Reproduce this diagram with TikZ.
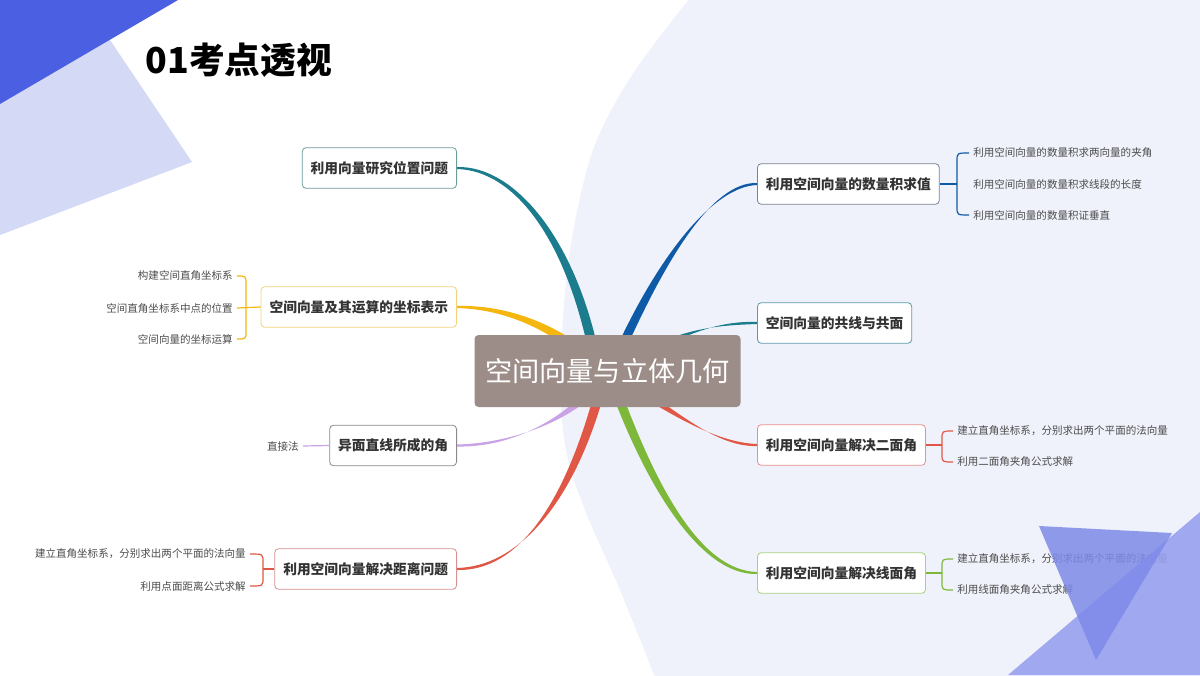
\documentclass[tikz,border=0pt]{standalone}
\usepackage{fontspec}
\setmainfont{Noto Sans CJK SC}
\usetikzlibrary{calc}

\definecolor{c-teal}{HTML}{1B7C8E}
\definecolor{c-yellow}{HTML}{F5B70F}
\definecolor{c-lilac}{HTML}{C9A3E6}
\definecolor{c-red}{HTML}{E05745}
\definecolor{c-blue}{HTML}{0E5AA7}
\definecolor{c-green}{HTML}{7DB83A}
\definecolor{c-hub}{HTML}{9C8D88}
\definecolor{b-pos}{HTML}{6E9A9A}
\definecolor{b-coord}{HTML}{F2D27A}
\definecolor{b-skew}{HTML}{8A8A8A}
\definecolor{b-dist}{HTML}{D89090}
\definecolor{b-dot}{HTML}{7A8290}
\definecolor{b-plane}{HTML}{5A9AA8}
\definecolor{b-dihed}{HTML}{E89090}
\definecolor{b-lineplane}{HTML}{A8D080}
\definecolor{pale}{HTML}{F0F2FB}
\definecolor{lavender}{HTML}{D4D9F5}
\definecolor{royal}{HTML}{4B5FE3}
\definecolor{tri-light}{HTML}{98A2EF}
\definecolor{tri-dark}{HTML}{7D8AE8}

\tikzset{
  topic/.style={draw, rounded corners=3pt, fill=white, line width=0.6pt, inner xsep=6.4pt,
    minimum height=30.5pt, text=black!80, font=\fontsize{10.3}{12}\selectfont\bfseries},
  leaf/.style={inner xsep=3pt, inner ysep=1pt, text=black!70, font=\fontsize{7.9}{9}\selectfont},
  hubbox/.style={fill=c-hub, rounded corners=3pt, minimum width=199.5pt, minimum height=54pt,
    text=white, font=\fontsize{20.4}{24}\selectfont},
  spine/.style={line width=0.9pt},
}

% tapered branch: colour, start, ctrl 1, ctrl 2, end, half width at start
\newcommand{\twig}[6]{%
  \fill[#1] ($#2+(#6)$) .. controls ($#3+(#6)$) and ($#4+(0,-2.5)$) .. ($#5+(0,-1)$)
    -- ($#5+(0,1)$) .. controls ($#4+(0,2.5)$) and ($#3-(#6)$) .. ($#2-(#6)$) -- cycle;}

% curly fork: colour, spine coordinate, first leaf, last leaf, leaf anchor
\newcommand{\forkto}[5]{%
  \draw[#1, spine] (#3.#5) .. controls (#2|-#3.#5) .. ($(#2|-#3.#5)+(0,8)$)
    -- ($(#2|-#4.#5)+(0,-8)$) .. controls (#2|-#4.#5) .. (#4.#5);}

\pgfdeclarelayer{back}
\pgfdeclarelayer{links}
\pgfsetlayers{back,links,main}

\begin{document}
\begin{tikzpicture}[x=0.75pt,y=-0.75pt]
\useasboundingbox (0,0) rectangle (1200,675);

\begin{pgfonlayer}{back}
  \fill[white] (0,0) rectangle (1200,675);
  \fill[pale] plot[smooth] coordinates {(690,-2) (632,75) (593,150) (570,250) (560,370) (566,450) (585,510) (620,590) (655,677)}
    -- (1202,677) -- (1202,-2) -- cycle;
  \fill[lavender] (0,103) -- (110,40) -- (192,162) -- (0,235) -- cycle;
  \fill[royal] (0,0) -- (178,0) -- (0,104) -- cycle;
\end{pgfonlayer}

\node[anchor=west, font=\fontsize{26.8}{30}\selectfont\bfseries] (title) at (141,60) {01考点透视};

\node[hubbox] (hub) at (607.5,371) {空间向量与立体几何};

% left topics
\node[topic, draw=b-pos, anchor=east] (pos) at (457,168) {利用向量研究位置问题};
\node[topic, draw=b-coord, anchor=east] (coord) at (457,307) {空间向量及其运算的坐标表示};
\node[topic, draw=b-skew, anchor=east] (skew) at (457,445.5) {异面直线所成的角};
\node[topic, draw=b-dist, anchor=east] (dist) at (457,569) {利用空间向量解决距离问题};

% right topics
\node[topic, draw=b-dot, anchor=west] (dot) at (757,184) {利用空间向量的数量积求值};
\node[topic, draw=b-plane, anchor=west] (plane) at (757,323) {空间向量的共线与共面};
\node[topic, draw=b-dihed, anchor=west] (dihed) at (757,445) {利用空间向量解决二面角};
\node[topic, draw=b-lineplane, anchor=west] (lineplane) at (757,573) {利用空间向量解决线面角};

% leaves
\node[leaf, anchor=east] (cl1) at (237,276) {构建空间直角坐标系};
\node[leaf, anchor=east] (cl2) at (237,308) {空间直角坐标系中点的位置};
\node[leaf, anchor=east] (cl3) at (237,339) {空间向量的坐标运算};
\node[leaf, anchor=east] (sl1) at (303,446) {直接法};
\node[leaf, anchor=east] (tl1) at (250,554) {建立直角坐标系，分别求出两个平面的法向量};
\node[leaf, anchor=east] (tl2) at (250,586) {利用点面距离公式求解};

\node[leaf, anchor=west] (dl1) at (969,153) {利用空间向量的数量积求两向量的夹角};
\node[leaf, anchor=west] (dl2) at (969,184) {利用空间向量的数量积求线段的长度};
\node[leaf, anchor=west] (dl3) at (969,215) {利用空间向量的数量积证垂直};
\node[leaf, anchor=west] (hl1) at (953,431) {建立直角坐标系，分别求出两个平面的法向量};
\node[leaf, anchor=west] (hl2) at (953,462) {利用二面角夹角公式求解};
\node[leaf, anchor=west] (ll1) at (953,559) {建立直角坐标系，分别求出两个平面的法向量};
\node[leaf, anchor=west] (ll2) at (953,590) {利用线面角夹角公式求解};

\begin{pgfonlayer}{links}
  \twig{c-teal}{(hub)+(-12,-10)}{(572,240)}{(515,168)}{(pos.east)}{5,0}
  \twig{c-yellow}{(hub)+(-10,-5)}{(560,330)}{(510,307)}{(coord.east)}{3.5,-3.5}
  \twig{c-lilac}{(hub)+(-8,10)}{(578,412)}{(520,445.5)}{(skew.east)}{3.5,2.5}
  \twig{c-red}{(hub)+(-5,10)}{(572,500)}{(520,569)}{(dist.east)}{5,0}
  \twig{c-blue}{(hub)+(8,-10)}{(660,260)}{(712,184)}{(dot.west)}{5,0}
  \twig{c-teal}{(hub)+(15,-5)}{(680,330)}{(720,323)}{(plane.west)}{1,3.5}
  \twig{c-red}{(hub)+(12,8)}{(665,405)}{(712,445)}{(dihed.west)}{-2,3.5}
  \twig{c-green}{(hub)+(5,10)}{(650,485)}{(700,573)}{(lineplane.west)}{5,0}
\end{pgfonlayer}

% forks
\coordinate (kcoord) at (246,307);
\draw[c-yellow, spine] (coord.west) -- (cl2.east);
\forkto{c-yellow}{kcoord}{cl1}{cl3}{east}
\draw[c-lilac, spine] (skew.west) -- (sl1.east);
\coordinate (kdist) at (263,569);
\draw[c-red, spine] (dist.west) -- (kdist);
\forkto{c-red}{kdist}{tl1}{tl2}{east}

\coordinate (kdot) at (957,184);
\draw[c-blue, spine] (dot.east) -- (kdot);
\forkto{c-blue}{kdot}{dl1}{dl3}{west}
\coordinate (kdihed) at (942,445);
\draw[c-red, spine] (dihed.east) -- (kdihed);
\forkto{c-red}{kdihed}{hl1}{hl2}{west}
\coordinate (klp) at (942,573);
\draw[c-green, spine] (lineplane.east) -- (klp);
\forkto{c-green}{klp}{ll1}{ll2}{west}

% corner triangles
\fill[tri-light, opacity=0.9] (1008,675) -- (1200,512) -- (1200,675) -- cycle;
\fill[tri-dark, opacity=0.85] (1039,526) -- (1172,533) -- (1096,660) -- cycle;
\end{tikzpicture}
\end{document}
